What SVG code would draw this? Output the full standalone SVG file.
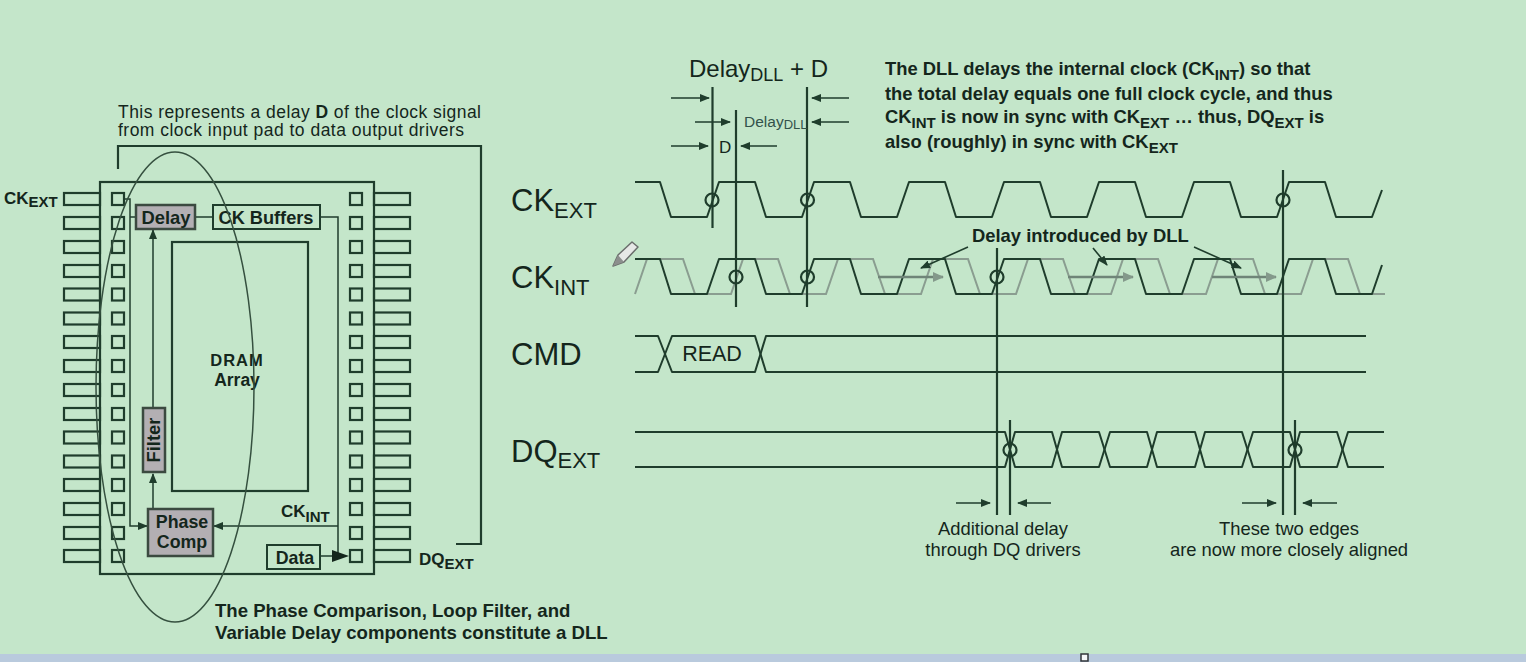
<svg xmlns="http://www.w3.org/2000/svg" width="1526" height="662" viewBox="0 0 1526 662">
<style>
text{font-family:"Liberation Sans",Arial,sans-serif;fill:#14261c}
.b{font-weight:bold}
.l{fill:none;stroke:#1f3d2c;stroke-width:2.200}
.t{fill:none;stroke:#1f3d2c;stroke-width:1.500}
.w{fill:none;stroke:#1f3d2c;stroke-width:2;stroke-linejoin:round}
.g{fill:none;stroke:#8a9d90;stroke-width:2}
.c{fill:none;stroke:#1f3d2c;stroke-width:1.600}
.n{fill:none;stroke:#1f3d2c;stroke-width:2}
.y{fill:#b3afb3;stroke:#3b4a40;stroke-width:2.500}
.big{font-size:31px}
.sb{font-size:22px}
.m{text-anchor:middle}
.s{font-size:15px}
.r{font-size:18.400px}
</style>
<defs>
<marker id="a" markerUnits="userSpaceOnUse" markerWidth="10" markerHeight="8" refX="9" refY="4" orient="auto"><path d="M0 0L10 4L0 8Z" fill="#1f3d2c"/></marker>
<marker id="ag" markerUnits="userSpaceOnUse" markerWidth="11" markerHeight="10" refX="10" refY="5" orient="auto"><path d="M0 0L11 5L0 10Z" fill="#84998b"/></marker>
<g id="lp"><rect x="64" y="-6" width="36" height="12" class="l"/><rect x="112" y="-6" width="12" height="12" class="l"/></g>
<g id="rp"><rect x="374" y="-6" width="36" height="12" class="l"/><rect x="350" y="-6" width="12" height="12" class="l"/></g>
</defs>
<rect id="background" width="1526" height="662" fill="#c4e6ca"/>
<rect id="bottom-bar" y="654" width="1526" height="8" fill="#b9cadd"/>
<rect id="bar-handle" x="1081" y="654" width="7" height="7" fill="#f4f6f8" stroke="#30343a" stroke-width="1.500"/>

<g id="package">
<rect x="100" y="182" width="274" height="392" class="l"/>
<g id="pins-left">
<use href="#lp" y="199"/><use href="#lp" y="223"/><use href="#lp" y="247"/><use href="#lp" y="271"/><use href="#lp" y="294.500"/><use href="#lp" y="318.500"/><use href="#lp" y="342"/><use href="#lp" y="366"/><use href="#lp" y="390"/><use href="#lp" y="414"/><use href="#lp" y="437.500"/><use href="#lp" y="461.500"/><use href="#lp" y="485"/><use href="#lp" y="509"/><use href="#lp" y="533"/><use href="#lp" y="556"/>
</g>
<g id="pins-right">
<use href="#rp" y="199"/><use href="#rp" y="223"/><use href="#rp" y="247"/><use href="#rp" y="271"/><use href="#rp" y="294.500"/><use href="#rp" y="318.500"/><use href="#rp" y="342"/><use href="#rp" y="366"/><use href="#rp" y="390"/><use href="#rp" y="414"/><use href="#rp" y="437.500"/><use href="#rp" y="461.500"/><use href="#rp" y="485"/><use href="#rp" y="509"/><use href="#rp" y="533"/><use href="#rp" y="556"/>
</g>
</g>

<g id="connectors">
<path class="l" d="M118 169V146H481V544H456"/>
<path class="t" d="M124 199H130V526H147" marker-end="url(#a)"/>
<path class="t" d="M130 217H136"/>
<path class="t" d="M195 217H213"/>
<path class="t" d="M320 217H338V553"/>
<path class="t" d="M338 526H214" marker-end="url(#a)"/>
<path class="t" d="M153 407V230" marker-end="url(#a)"/>
<path class="t" d="M153 508V474" marker-end="url(#a)"/>
<path class="t" d="M320 556H332"/>
<path d="M332 550L349 556L332 562Z" fill="#14261c"/>
</g>

<g id="delay"><rect x="136" y="205" width="59" height="24" class="y"/><text class="b m" x="166" y="224" font-size="18.400">Delay</text></g>
<g id="ck-buffers"><rect x="213" y="205" width="107" height="24" class="n"/><text class="b m" x="266" y="224" font-size="18.200">CK Buffers</text></g>
<g id="dram-array"><rect x="172" y="242" width="136" height="249" class="l"/><text class="b m" x="237" y="366" font-size="16.500" letter-spacing="1">DRAM</text><text class="b m" x="237" y="386" font-size="17.500">Array</text></g>
<g id="filter"><rect x="143" y="408" width="22" height="64" class="y"/><text class="b m" transform="translate(160 440) rotate(-90)" font-size="18.400">Filter</text></g>
<g id="phase-comp"><rect x="148" y="509" width="65" height="47" class="y"/><text class="b m" x="182" y="528" font-size="17.800">Phase</text><text class="b m" x="182" y="548" font-size="17.800">Comp</text></g>
<g id="data"><rect x="267" y="545" width="53" height="24" class="n"/><text class="b m" x="295" y="564" font-size="17.800">Data</text></g>

<g id="dll-ellipse"><ellipse cx="175" cy="387" rx="79" ry="235" fill="none" stroke="#35503f" stroke-width="1.500"/></g>

<g id="left-labels">
<text class="b" x="4" y="204" font-size="17">CK<tspan class="s" dy="3">EXT</tspan></text>
<text class="b" x="419" y="565" font-size="17">DQ<tspan class="s" dy="4">EXT</tspan></text>
<text class="b" x="281" y="517" font-size="17">CK<tspan class="s" dy="5">INT</tspan></text>
<text x="118" y="118" font-size="17.500" textLength="363">This represents a delay <tspan class="b">D</tspan> of the clock signal</text>
<text x="118" y="136" font-size="17.500" textLength="346">from clock input pad to data output drivers</text>
<text class="b" x="215" y="617" font-size="18.600">The Phase Comparison, Loop Filter, and</text>
<text class="b" x="215" y="639" font-size="18.600">Variable Delay components constitute a DLL</text>
</g>

<g id="signal-labels">
<text class="big" x="511" y="211">CK<tspan class="sb" dy="7">EXT</tspan></text>
<text class="big" x="511" y="288">CK<tspan class="sb" dy="7">INT</tspan></text>
<text class="big" x="511" y="365">CMD</text>
<text class="big" x="511" y="462">DQ<tspan class="sb" dy="6">EXT</tspan></text>
</g>

<g id="ck-int-delayed">
<path class="g" d="M635 294L647 259H683L695 294H731L743 259H778L790 294H826L838 259H873L885 294H921L933 259H968L980 294H1016L1028 259H1063L1075 294H1111L1123 259H1158L1170 294H1206L1218 259H1253L1265 294H1301L1313 259H1348L1360 294H1385"/>
</g>
<g id="ck-ext">
<path class="w" d="M635 182H660L671 217H707L719 182H755L766 217H802L814 182H850L861 217H897L909 182H945L956 217H992L1004 182H1040L1051 217H1087L1099 182H1135L1146 217H1182L1194 182H1230L1241 217H1277L1289 182H1325L1336 217H1372L1382 190"/>
</g>
<g id="ck-int">
<path class="w" d="M635 259H660L671 294H707L719 259H755L766 294H802L814 259H850L861 294H897L909 259H945L956 294H992L1004 259H1040L1051 294H1087L1099 259H1135L1146 294H1182L1194 259H1230L1241 294H1277L1289 259H1325L1336 294H1372L1382 265"/>
</g>
<g id="cmd">
<path class="w" d="M635 336H658L672 372H755L766 336H1366"/>
<path class="w" d="M635 372H658L672 336H755L766 372H1366"/>
</g>
<g id="dq-ext">
<path class="w" d="M635 432H1005L1015 467H1052L1062 432H1099L1110 467H1147L1157 432H1195L1205 467H1242L1253 432H1290L1300 467H1337L1348 432H1384"/>
<path class="w" d="M635 467H1005L1015 432H1052L1062 467H1099L1110 432H1147L1157 467H1195L1205 432H1242L1253 467H1290L1300 432H1337L1348 467H1384"/>
</g>

<g id="timing-lines">
<path class="l" d="M712.500 87V228M736 110V307M807 87V307M997 248V515M1283 170V515M1010 420V515M1295 420V515"/>
<circle class="l" cx="712" cy="200" r="6.500"/><circle class="l" cx="807.500" cy="200" r="6.500"/><circle class="l" cx="736" cy="277" r="6.500"/><circle class="l" cx="807.500" cy="277" r="6.500"/><circle class="l" cx="997" cy="277" r="6.500"/><circle class="l" cx="1283" cy="200" r="6.500"/><circle class="l" cx="1010" cy="450" r="6.500"/><circle class="l" cx="1295" cy="450" r="6.500"/>
</g>
<g id="timing-arrows">
<path class="c" d="M671 98H709" marker-end="url(#a)"/><path class="c" d="M849 98H812" marker-end="url(#a)"/>
<path class="c" d="M695 122H730" marker-end="url(#a)"/><path class="c" d="M849 122H812" marker-end="url(#a)"/>
<path class="c" d="M671 146H708" marker-end="url(#a)"/><path class="c" d="M777 146H741" marker-end="url(#a)"/>
<path class="c" d="M956 503H990" marker-end="url(#a)"/><path class="c" d="M1051 503H1018" marker-end="url(#a)"/>
<path class="c" d="M1242 503H1276" marker-end="url(#a)"/><path class="c" d="M1337 503H1303" marker-end="url(#a)"/>
<path class="c" d="M968 247L921 268" marker-end="url(#a)"/><path class="c" d="M1093 248L1107 265" marker-end="url(#a)"/><path class="c" d="M1194 247L1241 268" marker-end="url(#a)"/>
<path d="M878 277H943" stroke="#6f8578" stroke-width="2.500" fill="none" marker-end="url(#ag)"/><path d="M1068 277H1133" stroke="#6f8578" stroke-width="2.500" fill="none" marker-end="url(#ag)"/><path d="M1212 277H1276" stroke="#6f8578" stroke-width="2.500" fill="none" marker-end="url(#ag)"/>
</g>
<g id="timing-labels">
<text x="689" y="77" font-size="24">Delay<tspan font-size="18" dy="4">DLL</tspan><tspan dy="-4"> + D</tspan></text>
<text x="744" y="127" font-size="15.500" style="fill:#33524a">Delay<tspan font-size="13" dy="2">DLL</tspan></text>
<text x="719" y="153" font-size="17">D</text>
<text class="b r" x="885" y="75">The DLL delays the internal clock (CK<tspan class="s" dy="5">INT</tspan><tspan dy="-5">) so that</tspan></text>
<text class="b r" x="885" y="100">the total delay equals one full clock cycle, and thus</text>
<text class="b r" x="885" y="123">CK<tspan class="s" dy="5">INT</tspan><tspan dy="-5"> is now in sync with CK</tspan><tspan class="s" dy="5">EXT</tspan><tspan dy="-5"> … thus, DQ</tspan><tspan class="s" dy="5">EXT</tspan><tspan dy="-5"> is</tspan></text>
<text class="b r" x="885" y="148">also (roughly) in sync with CK<tspan class="s" dy="5">EXT</tspan></text>
<text class="b r" x="972" y="242">Delay introduced by DLL</text>
<text class="m r" x="1003" y="535">Additional delay</text>
<text class="m r" x="1003" y="556">through DQ drivers</text>
<text class="m r" x="1289" y="535">These two edges</text>
<text class="m r" x="1289" y="556">are now more closely aligned</text>
<text class="m" x="712" y="361" font-size="21.500">READ</text>
</g>
<g id="pencil-cursor">
<path d="M613 266L618 255L632 242L638 247L624 262Z" fill="#e6e8e6" stroke="#6a6e6c" stroke-width="1.500" stroke-linejoin="round"/>
<path d="M613 266L618 255L624 262Z" fill="#8c8f8d"/>
</g>
</svg>
